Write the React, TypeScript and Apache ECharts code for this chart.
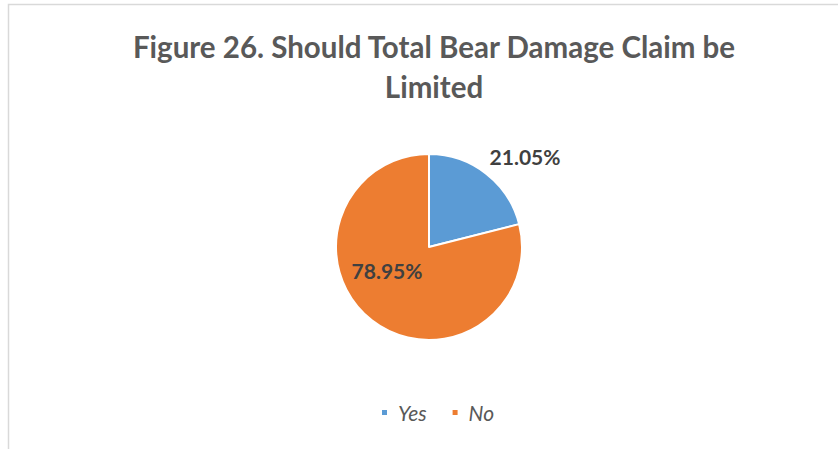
import React, { useEffect, useRef } from "react";
import * as echarts from "echarts";

const titleText = "Figure 26. Should Total Bear Damage Claim be\nLimited";
const categories = ["Yes", "No"];
const percentValues = [21.05, 78.95];
const sliceColors = ["#5B9BD5", "#ED7D31"];

export default function App() {
  const ref = useRef<HTMLDivElement>(null);
  useEffect(() => {
    if (!ref.current) return;
    const chart = echarts.init(ref.current, null, { renderer: "svg" });
    const labelPos = [
      { x: 525, y: 156 },
      { x: 387, y: 270 },
    ];
    chart.setOption({
      animation: false,
      backgroundColor: "#ffffff",
      graphic: [
        {
          type: "rect",
          shape: { x: 8.5, y: 4.5, width: 900, height: 500 },
          style: { fill: "none", stroke: "#d9d9d9", lineWidth: 1.5 },
          silent: true,
        },
      ],
      title: {
        text: titleText,
        left: 429,
        top: 21,
        textAlign: "center",
        textStyle: {
          fontFamily: "Lato",
          fontWeight: "bold",
          fontSize: 29.5,
          lineHeight: 40,
          color: "#595959",
        },
      },
      legend: {
        left: 375,
        top: 397,
        icon: "rect",
        itemWidth: 7,
        itemHeight: 7,
        itemGap: 24,
        textStyle: {
          fontFamily: "Lato",
          fontStyle: "italic",
          fontSize: 21,
          color: "#595959",
          padding: [0, 0, 0, 5],
        },
        data: categories,
      },
      series: [
        {
          type: "pie",
          center: [429, 247],
          radius: 93,
          startAngle: 90,
          clockwise: true,
          itemStyle: { borderColor: "#ffffff", borderWidth: 2 },
          label: {
            show: true,
            position: "inside",
            formatter: (p: any) => p.value.toFixed(2) + "%",
            fontFamily: "Lato",
            fontWeight: "bold",
            fontSize: 21,
            color: "#404040",
          },
          labelLine: { show: false },
          labelLayout: (p: any) => ({
            x: labelPos[p.dataIndex].x,
            y: labelPos[p.dataIndex].y,
            align: "center",
            verticalAlign: "middle",
          }),
          emphasis: { disabled: true },
          data: categories.map((c, i) => ({
            name: c,
            value: percentValues[i],
            itemStyle: { color: sliceColors[i] },
          })),
        },
      ],
    });
    return () => chart.dispose();
  }, []);
  return (
    <div
      ref={ref}
      style={{ position: "fixed", left: 0, top: 0, width: 838, height: 449 }}
    />
  );
}
